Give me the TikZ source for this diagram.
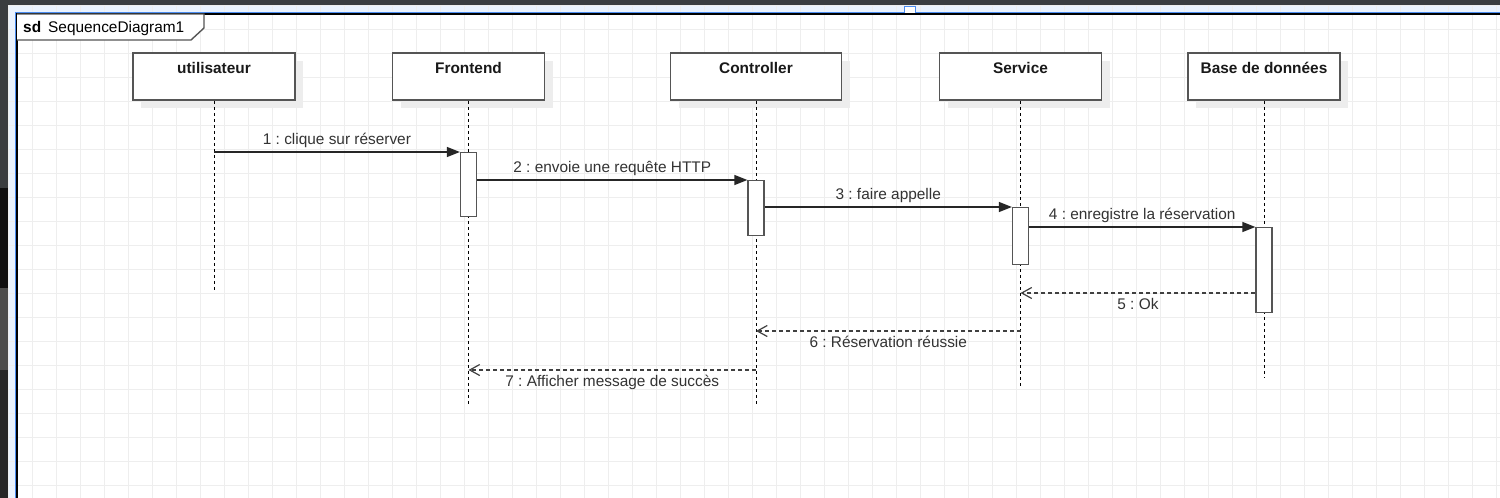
\documentclass[tikz,border=0pt]{standalone}
\usepackage{fontspec}
\setmainfont{Liberation Sans}
\usetikzlibrary{arrows.meta,shadows}
\frenchspacing

\definecolor{uibar}{HTML}{3A3D40}
\definecolor{uiblue}{HTML}{EAF2FD}
\definecolor{selblue}{HTML}{4A8CF0}
\definecolor{gridc}{HTML}{EEEEEE}
\definecolor{edge}{HTML}{555555}
\definecolor{txt}{HTML}{333333}

\tikzset{
  head/.style={draw=edge, line width=1.6pt, fill=white, minimum width=#1,
    inner xsep=0pt, inner ysep=8pt, text height=12pt, text depth=19pt,
    font=\bfseries\fontsize{15.4}{18}\selectfont, text=black!90,
    general shadow={shadow xshift=8pt, shadow yshift=-8pt, fill=black!7, draw=none}},
  act/.style={draw=edge, line width=1.3pt, fill=white, minimum width=16pt,
    minimum height=#1, inner sep=0pt, anchor=north},
  life/.style={draw=black, line width=1pt, dash pattern=on 3pt off 3pt},
  msg/.style={draw=black!85, line width=1.3pt, -{Triangle[length=13pt,width=10pt]}},
  ret/.style={draw=black!75, line width=1.2pt, dash pattern=on 4pt off 3pt,
    -{Straight Barb[length=10pt,width=11pt]}},
  lbl/.style={font=\fontsize{15.4}{18}\selectfont, text=txt, inner sep=0pt, anchor=base}
}

\begin{document}
\begin{tikzpicture}[x=1pt, y=-1pt, line join=miter]
  \useasboundingbox (0,0) rectangle (1500,498);

  % Nền và khung giao diện
  \fill[white] (0,0) rectangle (1500,498);
  \fill[uiblue] (8,5) rectangle (1500,14);
  \fill[uiblue] (8,5) rectangle (17,498);
  \foreach \x in {8,32,...,1496}
    \draw[gridc, line width=0.9pt] (\x,5) -- (\x,498);
  \foreach \y in {5,29,...,485}
    \draw[gridc, line width=0.9pt] (8,\y) -- (1500,\y);
  \fill[uibar] (0,0) rectangle (1500,5);
  \fill[uibar] (0,0) rectangle (8,188);
  \fill[black!75!uibar] (0,188) rectangle (8,288);
  \fill[black!70] (0,288) rectangle (8,370);
  \fill[black!85] (0,370) rectangle (8,498);
  \draw[selblue, line width=1pt] (15.5,498) -- (15.5,12.5) -- (1500,12.5);
  \draw[selblue, fill=white, line width=1pt] (904,6) rectangle (915,13);

  % Khung sd
  \draw[black, line width=1.5pt] (17,498) -- (17,14) -- (1500,14);
  \draw[edge, fill=white, line width=1.4pt] (17,14) -- (204,14) -- (204,28) -- (191,40) -- (17,40);
  \node[lbl, anchor=base west, text=black] (sd) at (23,32)
    {\textbf{sd}\hspace{7pt}SequenceDiagram1};

  % Các đối tượng
  \node[head=162pt] (usr) at (214,76.5) {utilisateur};
  \node[head=152pt] (fe) at (468.5,76.5) {Frontend};
  \node[head=171pt] (ctl) at (756,76.5) {Controller};
  \node[head=162pt] (svc) at (1020.5,76.5) {Service};
  \node[head=152pt] (bdd) at (1264,76.5) {Base de données};

  % Đường đời
  \coordinate (usrE) at (214,292);
  \coordinate (feE) at (468.5,406);
  \coordinate (ctlE) at (756,406);
  \coordinate (svcE) at (1020.5,386);
  \coordinate (bddE) at (1264,378);
  \draw[life] (usr.south) -- (usrE);
  \draw[life] (fe.south) -- (feE);
  \draw[life] (ctl.south) -- (ctlE);
  \draw[life] (svc.south) -- (svcE);
  \draw[life] (bdd.south) -- (bddE);

  % Thanh kích hoạt
  \node[act=64pt] (a1) at (468.5,152) {};
  \node[act=55pt] (a2) at (756,180) {};
  \node[act=57pt] (a3) at (1020.5,207) {};
  \node[act=85pt] (a4) at (1264,227) {};

  % Thông điệp
  \draw[msg] (usr.south |- a1.north) -- (a1.north west)
    node[lbl, midway, yshift=8pt] {1 : clique sur réserver};
  \draw[msg] (a1.east |- a2.north) -- (a2.north west)
    node[lbl, midway, yshift=8pt] {2 : envoie une requête HTTP};
  \draw[msg] (a2.east |- a3.north) -- (a3.north west)
    node[lbl, midway, yshift=8pt] {3 : faire appelle};
  \draw[msg] (a3.east |- a4.north) -- (a4.north west)
    node[lbl, midway, yshift=8pt] {4 : enregistre la réservation};

  % Thông điệp trả về
  \coordinate (y5) at (0,293);
  \coordinate (y6) at (0,331);
  \coordinate (y7) at (0,370);
  \draw[ret] (a4.west |- y5) -- (svc.south |- y5)
    node[lbl, midway, yshift=-16pt] {5 : Ok};
  \draw[ret] (svc.south |- y6) -- (ctl.south |- y6)
    node[lbl, midway, yshift=-16pt] {6 : Réservation réussie};
  \draw[ret] (ctl.south |- y7) -- (fe.south |- y7)
    node[lbl, midway, yshift=-16pt] {7 : Afficher message de succès};
\end{tikzpicture}
\end{document}
